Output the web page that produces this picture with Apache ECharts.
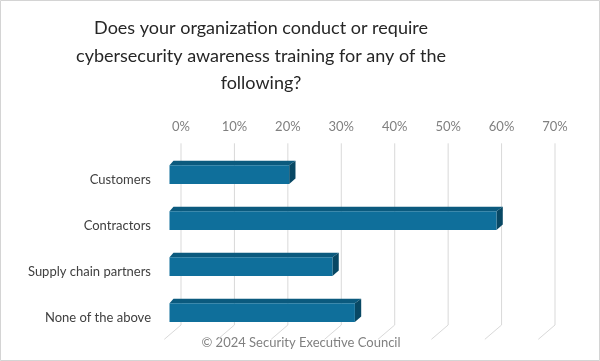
<!DOCTYPE html>
<html>
<head>
<meta charset="utf-8">
<script src="https://cdn.jsdelivr.net/npm/echarts@6/dist/echarts.min.js"></script>
<style>
html,body{margin:0;padding:0;background:#fff;}
#chart{width:600px;height:361px;}
</style>
</head>
<body>
<div id="chart"></div>
<script>
const titleLines = ['Does your organization conduct or require', 'cybersecurity awareness training for any of the', 'following?'];
const categories = ['Customers', 'Contractors', 'Supply chain partners', 'None of the above'];
const values = [22.4, 61.2, 30.5, 34.7];
const tickValues = [0, 10, 20, 30, 40, 50, 60, 70];
const footer = '\u00A9 2024 Security Executive Council';

const chart = echarts.init(document.getElementById('chart'), null, {renderer: 'canvas'});

function renderGrid(params, api) {
  const cs = params.coordSys;
  const x = api.coord([api.value(0), 0])[0];
  const top = cs.y + 2.3;
  const bottom = cs.y + cs.height;
  return {
    type: 'polyline',
    shape: {points: [[x, top], [x, bottom], [x - 16.7, bottom + 14.3]]},
    style: {stroke: '#d9d9d9', lineWidth: 1, fill: null}
  };
}

function renderBar(params, api) {
  const cat = api.value(1);
  const p0 = api.coord([0, cat]);
  const p1 = api.coord([api.value(0), cat]);
  const yc = p0[1];
  const fx0 = p0[0] - 11.5;
  const fx1 = p1[0] - 11.5;
  const fTop = yc + 1.2;
  const fBot = yc + 20;
  const dx = 6.3, dy = 4.4;
  return {
    type: 'group',
    children: [
      {type: 'polygon', shape: {points: [[fx0, fTop], [fx0 + 4, fTop - dy], [fx1 + dx, fTop - dy], [fx1, fTop]]},
        style: {fill: '#0b5a7e'}},
      {type: 'polygon', shape: {points: [[fx1, fTop], [fx1 + dx, fTop - dy], [fx1 + dx, fBot - dy - 1], [fx1, fBot]]},
        style: {fill: '#084864'}},
      {type: 'rect', shape: {x: fx0, y: fTop, width: fx1 - fx0, height: fBot - fTop},
        style: {fill: '#0f6f9b'}},
      {type: 'text', x: p0[0] - 30, y: yc + 15.5,
        style: {text: categories[cat], fontFamily: 'Lato', fontSize: 13, fill: '#404040', align: 'right', verticalAlign: 'middle'}}
    ]
  };
}

const option = {
  animation: false,
  backgroundColor: '#ffffff',
  graphic: [
    {type: 'rect', shape: {x: 0.5, y: 0.5, width: 599, height: 360}, style: {fill: null, stroke: '#d4d4d4', lineWidth: 1}, z: 100},
    {type: 'text', x: 261, y: 14.5,
      style: {text: titleLines.join('\n'), fontFamily: 'Lato', fontSize: 18, fill: '#262626', align: 'center', verticalAlign: 'top', lineHeight: 27.5}},
    {type: 'text', x: 301, y: 343,
      style: {text: footer, fontFamily: 'Lato', fontSize: 13, fill: '#808080', align: 'center', verticalAlign: 'middle'}}
  ],
  grid: {left: 181, right: 45, top: 141, bottom: 36, containLabel: false},
  xAxis: {
    type: 'value', position: 'top', min: 0, max: 70, interval: 10,
    axisLine: {show: false}, axisTick: {show: false}, splitLine: {show: false},
    axisLabel: {formatter: '{value}%', color: '#808080', fontFamily: 'Lato', fontSize: 13, margin: 8}
  },
  yAxis: {
    type: 'category', data: categories, inverse: true,
    axisLine: {show: false}, axisTick: {show: false}, splitLine: {show: false},
    axisLabel: {show: false}
  },
  series: [
    {type: 'custom', renderItem: renderGrid, silent: true, z: 1,
      data: tickValues.map(v => [v, 0])},
    {type: 'custom', renderItem: renderBar, z: 5,
      data: values.map((v, i) => [v, i])}
  ]
};
chart.setOption(option);
</script>
</body>
</html>
